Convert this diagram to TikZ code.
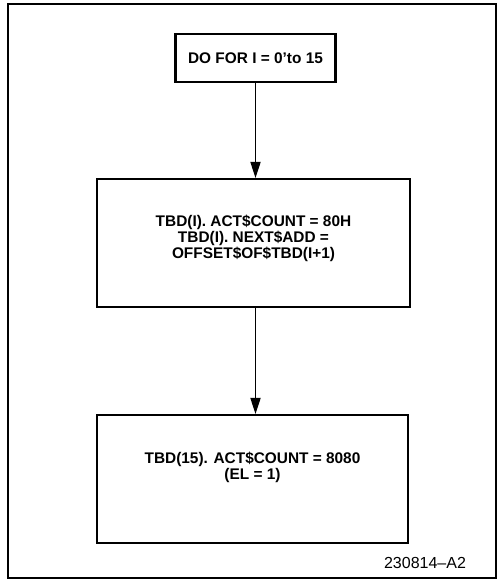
\documentclass[tikz,border=0pt]{standalone}
\usepackage{fontspec}
\setmainfont{Liberation Sans}
\usetikzlibrary{arrows.meta,positioning}

\begin{document}
\begin{tikzpicture}[x=1pt,y=-1pt,
  blk/.style={rectangle,draw,line width=2.1pt,inner sep=0pt},
  txt/.style={align=center,font=\fontsize{15.4}{16}\selectfont\bfseries,inner sep=0pt},
  flow/.style={-{Triangle[width=10pt,length=16pt]},line width=1.8pt}]
\useasboundingbox (0,0) rectangle (498,582);
\draw[line width=1.5pt] (8,4) rectangle (496,578);
% loop header
\node[blk,minimum width=160pt,minimum height=48pt] (loop) at (255.5,58) {};
\node[txt] (loopt) at (loop.center) {DO FOR I = 0'to 15};
% body of the loop
\node[blk,minimum width=313pt,minimum height=128pt] (body) at (253.5,243) {};
\node[txt] (bodyt) at ([yshift=5pt]body.center) {TBD(I). ACT\$COUNT = 80H\\TBD(I). NEXT\$ADD =\\OFFSET\$OF\$TBD(I+1)};
% last buffer
\node[blk,minimum width=311pt,minimum height=128pt] (last) at (252.5,479) {};
\node[txt] (lastt) at ([yshift=12pt]last.center) {TBD(15). ACT\$COUNT = 8080\\(EL = 1)};
\draw[flow] (loop.south) -- (loop.south |- body.north);
\draw[flow] (body.south -| loop.south) -- (loop.south |- last.north);
\node[font=\fontsize{16}{17}\selectfont,anchor=base] (fig) at (425,568) {230814--A2};
\end{tikzpicture}
\end{document}
